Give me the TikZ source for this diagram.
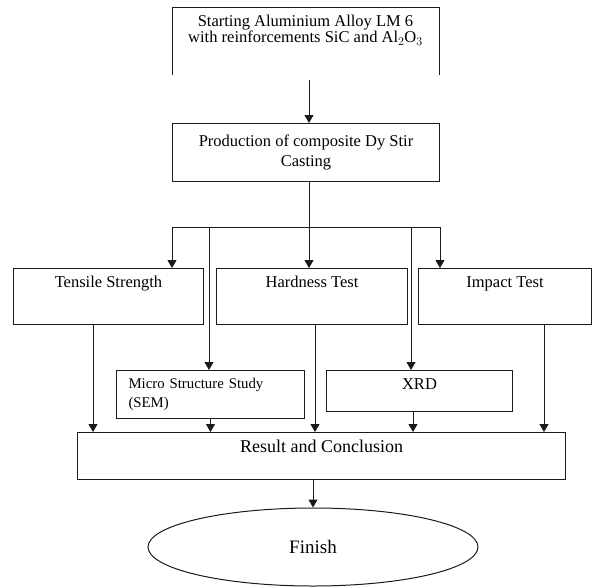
\documentclass[tikz,border=0pt]{standalone}
\usepackage{fontspec}
\setmainfont{Liberation Serif}
\usepackage{tikz}
\usetikzlibrary{arrows.meta,positioning,calc,shapes.geometric}
\definecolor{fcInk}{HTML}{1A1A1A}
\tikzset{
  box/.style={draw=fcInk, line width=1pt, rectangle, anchor=north west, inner xsep=4pt, inner ysep=8pt, align=center, font=\fontsize{16.5}{20}\selectfont},
  testbox/.style={box, minimum height=56pt, text height=11pt, text depth=29pt},
  arr/.style={-{Triangle[length=8pt,width=9pt]}, line width=1pt, draw=fcInk},
  ln/.style={line width=1pt, draw=fcInk},
}
\begin{document}
\begin{tikzpicture}[x=1pt,y=-1pt]
  \useasboundingbox (0,0) rectangle (592,587);
  % start (box open at the bottom)
  \node[font=\fontsize{16.5}{16.5}\selectfont, align=center] (alloy) at (305.5,30) {Starting Aluminium Alloy LM 6\\with reinforcements SiC and Al$_2$O$_3$};
  \draw[ln] (172,75) |- (439,7) -- (439,75);
  \coordinate (alloyout) at (309,80);
  \node[box, minimum width=267pt, minimum height=58pt] (prod) at (172,123) {Production of composite Dy Stir\\Casting};
  \draw[arr] (alloyout) -- (alloyout |- prod.north);
  % tests
  \node[testbox, minimum width=190pt] (tensile) at (13,268) {Tensile Strength};
  \node[testbox, minimum width=191pt] (hardness) at (216,268) {Hardness Test};
  \node[testbox, minimum width=173pt] (impact) at (418,268) {Impact Test};
  \node[box, minimum width=188pt, minimum height=41pt, inner xsep=12pt, text width=164pt, align=left, font=\fontsize{14.8}{19}\selectfont] (micro) at (116,370) {Micro Structure Study\\(SEM)};
  \node[box, minimum width=186pt, minimum height=41pt, text height=11pt, text depth=14pt] (xrd) at (326,370) {XRD};
  \node[box, minimum width=488pt, minimum height=47pt, text height=12pt, text depth=19pt, font=\fontsize{18}{20}\selectfont] (result) at (77,432) {Result and Conclusion};
  \node[ellipse, draw=fcInk, line width=1pt, minimum width=330pt, minimum height=78pt, font=\fontsize{19}{20}\selectfont] (finish) at (313,547) {Finish};
  % distribution bus
  \coordinate (busL) at (172,227);
  \coordinate (busS) at (209,227);
  \coordinate (busM) at (309,227);
  \coordinate (busX) at (411,227);
  \coordinate (busR) at (440,227);
  \draw[ln] (busM |- prod.south) -- (busM);
  \draw[ln] (busL) -- (busR);
  \draw[arr] (busL) -- (busL |- tensile.north);
  \draw[arr] (busM) -- (busM |- hardness.north);
  \draw[arr] (busR) -- (busR |- impact.north);
  \draw[arr] (busS) -- (busS |- micro.north);
  \draw[arr] (busX) -- (busX |- xrd.north);
  % into result
  \draw[arr] (tensile.south -| 93,0) -- (result.north -| 93,0);
  \draw[arr] (micro.south) -- (micro.south |- result.north);
  \draw[arr] (hardness.south -| 315,0) -- (result.north -| 315,0);
  \draw[arr] (xrd.south -| 413,0) -- (result.north -| 413,0);
  \draw[arr] (impact.south -| 544,0) -- (result.north -| 544,0);
  \draw[arr] (finish.north |- result.south) -- (finish.north);
\end{tikzpicture}
\end{document}
